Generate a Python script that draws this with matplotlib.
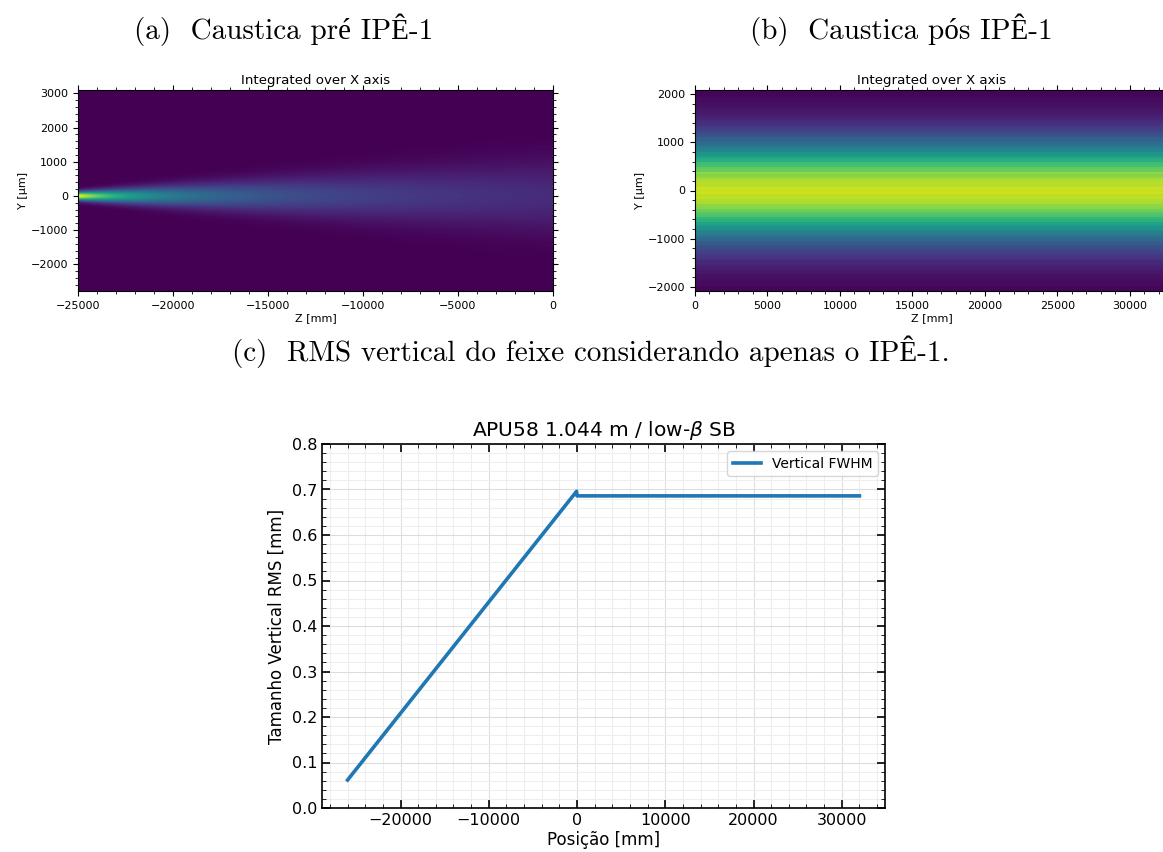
import matplotlib
matplotlib.use("Agg")
import matplotlib.pyplot as plt
import numpy as np
from matplotlib.ticker import AutoMinorLocator, MultipleLocator

# bottom panel: vertical beam size along the line
pos_mm = [-26000, -50, 0, 32000]
rms_mm = [0.0615, 0.696, 0.686, 0.686]

# panel (b): vertical profile after IPE-1 (y step 50 um, -2000 .. 2000)
profile_b = [
    0.02, 0.02, 0.03, 0.03, 0.04, 0.05, 0.05, 0.07, 0.08, 0.09,
    0.11, 0.12, 0.14, 0.17, 0.18, 0.21, 0.23, 0.26, 0.29, 0.32,
    0.36, 0.39, 0.44, 0.47, 0.52, 0.55, 0.61, 0.63, 0.69, 0.72,
    0.78, 0.80, 0.84, 0.89, 0.90, 0.94, 0.95, 0.98, 0.97, 1.00,
    0.99,
    1.00, 0.96, 0.97, 0.95, 0.92, 0.88, 0.90, 0.83, 0.81, 0.76,
    0.74, 0.68, 0.65, 0.59, 0.56, 0.50, 0.47, 0.42, 0.39, 0.34,
    0.33, 0.28, 0.26, 0.22, 0.20, 0.17, 0.15, 0.13, 0.11, 0.09,
    0.08, 0.07, 0.06, 0.05, 0.04, 0.03, 0.03, 0.02, 0.02, 0.02,
]

W, H = 1163, 852
fig = plt.figure(figsize=(W / 100, H / 100), dpi=100)


def box(l, t, r, b):
    return [l / W, 1 - b / H, (r - l) / W, (b - t) / H]


def style_map(ax):
    ax.xaxis.set_major_locator(MultipleLocator(5000))
    ax.xaxis.set_minor_locator(AutoMinorLocator(5))
    ax.yaxis.set_major_locator(MultipleLocator(1000))
    ax.yaxis.set_minor_locator(AutoMinorLocator(5))
    ax.tick_params(which="both", direction="out", top=True, right=True, labelsize=8)
    ax.set_xlabel("Z [mm]", fontsize=8, labelpad=2)
    ax.set_ylabel("Y [µm]", fontsize=8, labelpad=2)
    ax.set_title("Integrated over X axis", fontsize=9.6, pad=4)


# (a) caustic before IPE-1
ax_a = fig.add_axes(box(78, 90, 553, 291))
za = np.linspace(-25000, 0, 600)
ya = np.linspace(-2780, 3100, 400)
sig_a = np.interp(za, pos_mm[:2], rms_mm[:2]) * 1000
img_a = (sig_a[0] / sig_a)[None, :] * np.exp(-ya[:, None] ** 2 / (2 * sig_a[None, :] ** 2))
ax_a.imshow(img_a, origin="lower", aspect="auto", cmap="viridis",
            extent=[-25000, 0, -2780, 3100], vmin=0, vmax=1)
ax_a.set_xlim(-25000, 0)
ax_a.set_ylim(-2780, 3100)
style_map(ax_a)

# (b) caustic after IPE-1
ax_b = fig.add_axes(box(695, 90, 1169, 291))
img_b = np.repeat(np.array(profile_b)[:, None], 50, axis=1)
ax_b.imshow(img_b, origin="lower", aspect="auto", cmap="viridis",
            extent=[0, 32700, -2080, 2080], vmin=0, vmax=1.08, interpolation="nearest")
ax_b.set_xlim(0, 32700)
ax_b.set_ylim(-2080, 2080)
style_map(ax_b)

# (c) rms vs position
ax_c = fig.add_axes(box(322, 444, 885, 808))
ax_c.plot(pos_mm, rms_mm, color="#1f77b4", lw=2.6, label="Vertical FWHM")
ax_c.set_ylim(0, 0.8)
ax_c.xaxis.set_major_locator(MultipleLocator(10000))
ax_c.xaxis.set_minor_locator(AutoMinorLocator(5))
ax_c.yaxis.set_major_locator(MultipleLocator(0.1))
ax_c.yaxis.set_minor_locator(AutoMinorLocator(5))
ax_c.tick_params(which="both", direction="in", top=True, right=True)
ax_c.tick_params(which="major", length=6, width=1.2, labelsize=11.5)
ax_c.tick_params(which="minor", length=3)
ax_c.grid(which="major", color="#dddddd", lw=0.8)
ax_c.grid(which="minor", color="#eeeeee", lw=0.8)
ax_c.set_axisbelow(True)
for s in ax_c.spines.values():
    s.set_linewidth(1.2)
ax_c.set_title(r"APU58 1.044 m / low-$\beta$ SB", fontsize=14.5, pad=6)
ax_c.set_xlabel("Posição [mm]", fontsize=12, labelpad=2)
ax_c.set_ylabel("Tamanho Vertical RMS [mm]", fontsize=12)
ax_c.legend(loc="upper right", fontsize=10, handlelength=2.0)

# captions
cap = dict(family=["cmr10", "Liberation Serif"], fontsize=21, ha="center", va="center")
fig.text(284 / W, 1 - 30 / H, "(a)  Caustica pré IPÊ-1", **cap)
fig.text(901 / W, 1 - 30 / H, "(b)  Caustica pós IPÊ-1", **cap)
fig.text(591 / W, 1 - 352 / H, "(c)  RMS vertical do feixe considerando apenas o IPÊ-1.", **cap)

fig.savefig("out.png", dpi=100)
